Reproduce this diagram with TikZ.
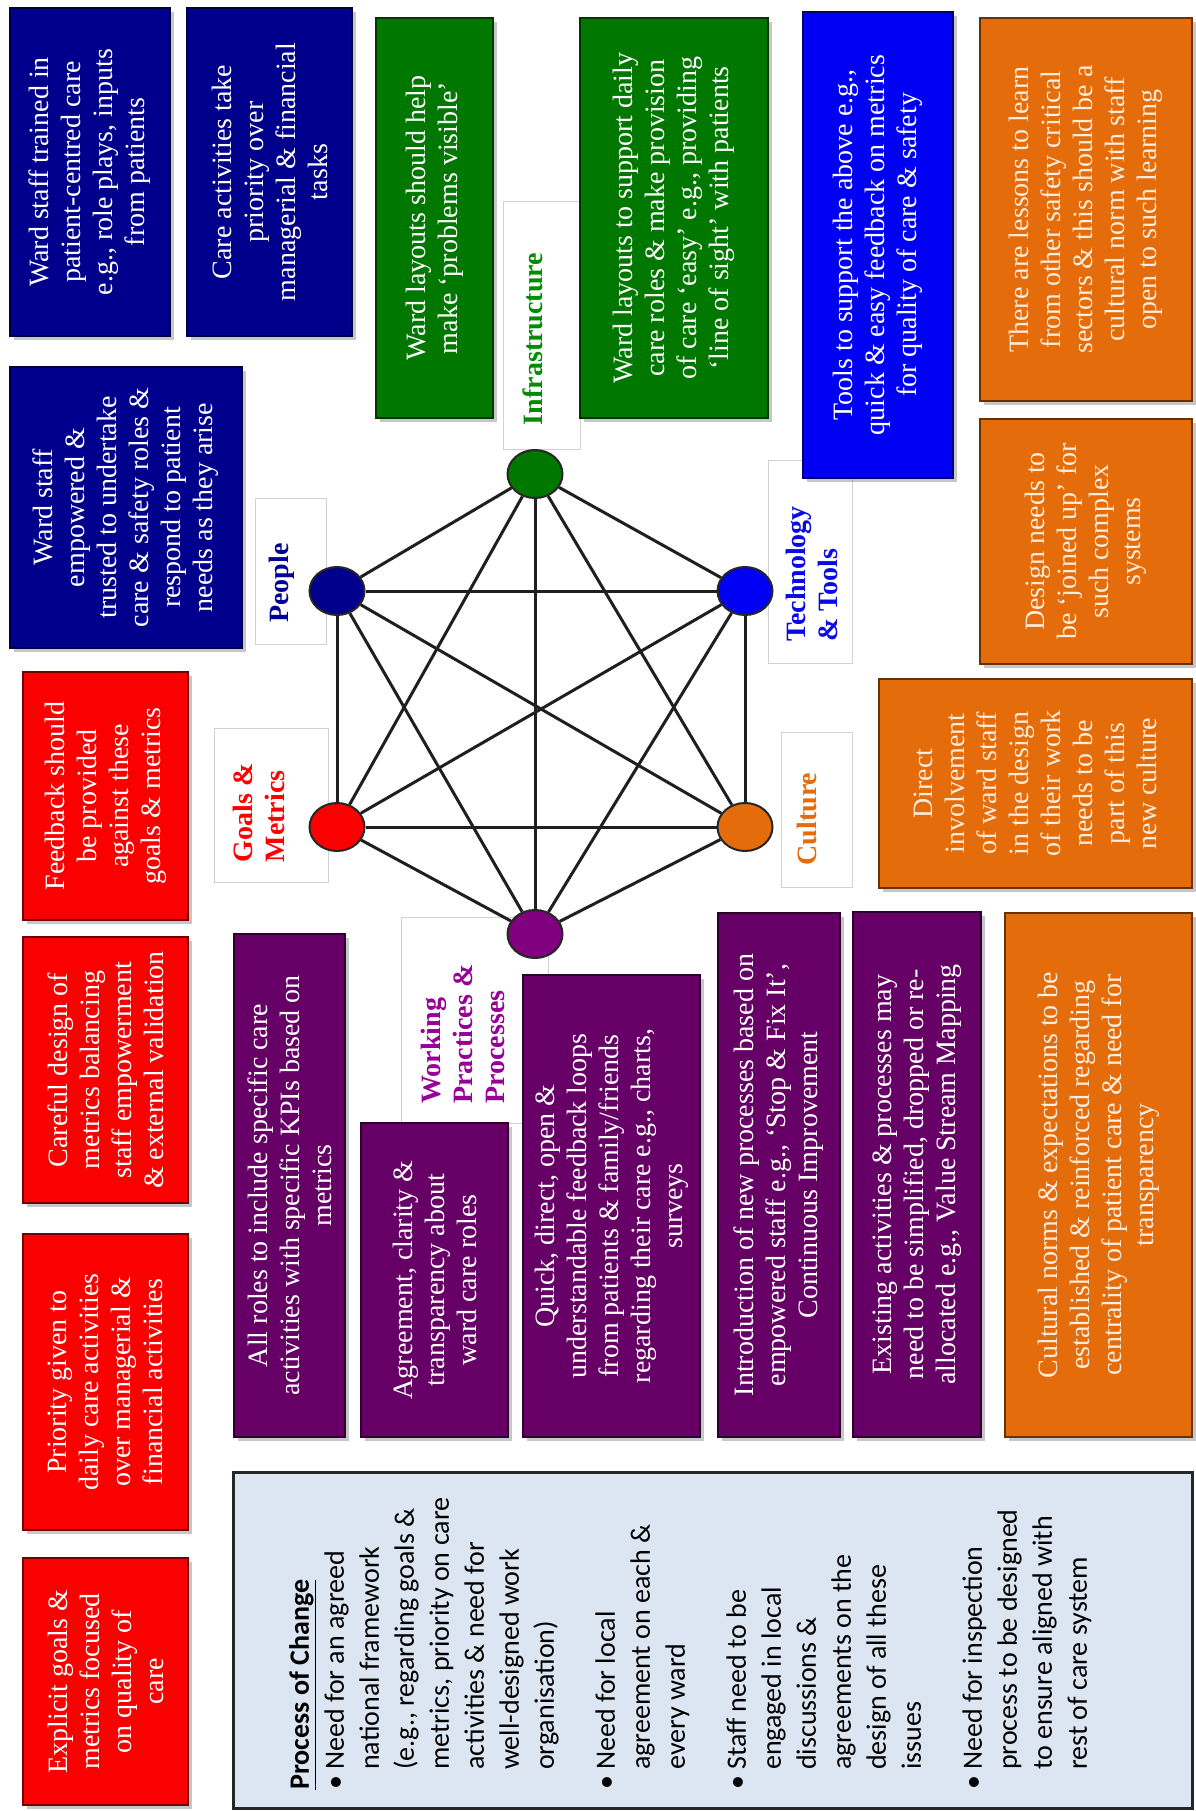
\documentclass[tikz,border=0pt]{standalone}
\usepackage{fontspec}
\usetikzlibrary{shapes.geometric}
\newfontfamily\serifbox{Liberation Serif}
\newfontfamily\calib{Carlito}
\definecolor{navyc}{RGB}{0,0,140}
\definecolor{greenc}{RGB}{0,120,0}
\definecolor{bluec}{RGB}{0,0,245}
\definecolor{orangec}{RGB}{228,108,10}
\definecolor{redc}{RGB}{250,0,0}
\definecolor{purplec}{RGB}{102,0,102}
\definecolor{procc}{RGB}{220,230,242}
\definecolor{wpcirc}{RGB}{128,0,128}
\definecolor{lPeople}{RGB}{0,0,150}
\definecolor{lInfra}{RGB}{0,140,0}
\definecolor{lTech}{RGB}{10,10,230}
\definecolor{lGoals}{RGB}{255,0,0}
\definecolor{lCult}{RGB}{228,108,10}
\definecolor{lWP}{RGB}{150,0,150}
\definecolor{peach}{RGB}{255,236,218}
\newcommand\boxfont{\serifbox\fontsize{28pt}{32pt}\selectfont}
\newcommand\lblfont{\serifbox\bfseries\fontsize{28pt}{32pt}\selectfont}
\newcommand\procfont{\calib\fontsize{28pt}{35pt}\selectfont}
% name, x1, y1, x2, y2, style, text
\newcommand\mkbox[7]{%
  \fill[boxshadow] ({#2+4},{#3+4}) rectangle ({#4+4},{#5+4});
  \pgfmathsetmacro\mycx{(#2+#4)/2}%
  \pgfmathsetmacro\mycy{(#3+#5)/2}%
  \pgfmathsetmacro\mybw{#5-#3}%
  \pgfmathsetmacro\mybh{#4-#2}%
  \node[#6, minimum width=\mybw pt, minimum height=\mybh pt] (#1) at (\mycx,\mycy) {#7};}
\newcommand\ind{\hspace*{20pt}}
\newcommand\bul{\makebox[20pt][l]{•}}
\begin{document}
\begin{tikzpicture}[x=1pt,y=-1pt,
  boxshadow/.style={black,opacity=0.22},
  cbox/.style={rotate=90, draw=#1!45!black, line width=1.5pt, fill=#1,
    text=white, font=\boxfont, align=center, inner sep=0pt},
  obox/.style={cbox=orangec, text=peach},
  lblbox/.style={draw=black!18, line width=1pt, fill=white},
  lbltext/.style={rotate=90, font=\lblfont, align=left, inner sep=0pt},
  circ/.style={ellipse, draw=black!85, line width=2pt, minimum width=55pt,
    minimum height=48pt, inner sep=0pt},
  edge/.style={line width=3pt, black!88},
  procbox/.style={draw=black!85, line width=3pt, fill=procc},
  proctext/.style={rotate=90, font=\procfont, align=left, inner sep=0pt, anchor=north west}
]
\useasboundingbox (0,0) rectangle (1195,1811);
\fill[white] (0,0) rectangle (1195,1811);

% ---- label boxes (behind)
\draw[lblbox] (503,202) rectangle (580,449);
\draw[lblbox] (255,498) rectangle (326,644);
\draw[lblbox] (768,460) rectangle (852,663);
\draw[lblbox] (214,728) rectangle (328,882);
\draw[lblbox] (781,732) rectangle (852,887);
\draw[lblbox] (401,917) rectangle (548,1123);
\node[lbltext, text=lInfra] (tInf) at (533,339) {Infrastructure};
\node[lbltext, text=lPeople] (tPeo) at (282,583) {People};
\node[lbltext, text=lTech] (tTec) at (812,574) {Technology\\\& Tools};
\node[lbltext, text=lGoals] (tGoa) at (259,813) {Goals \&\\Metrics};
\node[lbltext, text=lCult] (tCul) at (807,819) {Culture};
\node[lbltext, text=lWP] (tWP) at (463,1034) {Working\\Practices \&\\Processes};

% ---- People (navy)
\mkbox{b1}{10}{8}{170}{336}{cbox=navyc}{Ward staff trained in\\patient-centred care\\e.g., role plays, inputs\\from patients}
\mkbox{b2}{187}{8}{352}{336}{cbox=navyc}{Care activities take\\priority over\\managerial \& financial\\tasks}
\mkbox{b3}{10}{367}{242}{648}{cbox=navyc}{Ward staff\\empowered \&\\trusted to undertake\\care \& safety roles \&\\respond to patient\\needs as they arise}

% ---- Infrastructure (green)
\mkbox{g1}{376}{18}{493}{418}{cbox=greenc}{Ward layouts should help\\make ‘problems visible’}
\mkbox{g2}{580}{18}{768}{418}{cbox=greenc}{Ward layouts to support daily\\care roles \& make provision\\of care ‘easy’ e.g., providing\\‘line of sight’ with patients}

% ---- Technology (blue)
\mkbox{t1}{803}{12}{953}{478}{cbox=bluec}{Tools to support the above e.g.,\\quick \& easy feedback on metrics\\for quality of care \& safety}

% ---- Culture (orange)
\mkbox{o1}{980}{18}{1192}{401}{obox}{There are lessons to learn\\from other safety critical\\sectors \& this should be a\\cultural norm with staff\\open to such learning}
\mkbox{o2}{980}{419}{1192}{664}{obox}{Design needs to\\be ‘joined up’ for\\such complex\\systems}
\mkbox{o3}{879}{679}{1192}{888}{obox}{Direct\\involvement\\of ward staff\\in the design\\of their work\\needs to be\\part of this\\new culture}
\mkbox{o4}{1005}{913}{1192}{1437}{obox}{Cultural norms \& expectations to be\\established \& reinforced regarding\\centrality of patient care \& need for\\transparency}

% ---- Goals & Metrics (red)
\mkbox{r1}{23}{672}{188}{920}{cbox=redc}{Feedback should\\be provided\\against these\\goals \& metrics}
\mkbox{r2}{23}{937}{188}{1203}{cbox=redc}{Careful design of\\metrics balancing\\staff empowerment\\\& external validation}
\mkbox{r3}{23}{1234}{188}{1530}{cbox=redc}{Priority given to\\daily care activities\\over managerial \&\\financial activities}
\mkbox{r4}{23}{1558}{188}{1805}{cbox=redc}{Explicit goals \&\\metrics focused\\on quality of\\care}

% ---- Working practices (purple)
\mkbox{p1}{234}{934}{345}{1437}{cbox=purplec}{All roles to include specific care\\activities with specific KPIs based on\\metrics}
\mkbox{p2}{361}{1123}{508}{1437}{cbox=purplec}{Agreement, clarity \&\\transparency about\\ward care roles}
\mkbox{p3}{523}{975}{700}{1437}{cbox=purplec}{Quick, direct, open \&\\understandable feedback loops\\from patients \& family/friends\\regarding their care e.g., charts,\\surveys}
\mkbox{p4}{718}{913}{840}{1437}{cbox=purplec}{Introduction of new processes based on\\empowered staff e.g., ‘Stop \& Fix It’,\\Continuous Improvement}
\mkbox{p5}{853}{912}{981}{1437}{cbox=purplec}{Existing activities \& processes may\\need to be simplified, dropped or re-\\allocated e.g., Value Stream Mapping}

% ---- Process of change
\node[procbox, minimum width=959pt, minimum height=336pt] (proc) at (712.5,1640) {};
\node[proctext] (proctxt) at (289,1790) {\textbf{\underline{Process of Change}}\\
\bul Need for an agreed\\
\ind national framework\\
\ind (e.g., regarding goals \&\\
\ind metrics, priority on care\\
\ind activities \& need for\\
\ind well-designed work\\
\ind organisation)\\[26pt]
\bul Need for local\\
\ind agreement on each \&\\
\ind every ward\\[26pt]
\bul Staff need to be\\
\ind engaged in local\\
\ind discussions \&\\
\ind agreements on the\\
\ind design of all these\\
\ind issues\\[26pt]
\bul Need for inspection\\
\ind process to be designed\\
\ind to ensure aligned with\\
\ind rest of care system};

% ---- hexagon of factors
\node[circ, fill=greenc] (nInf) at (535,474) {};
\node[circ, fill=navyc] (nPeo) at (337,591) {};
\node[circ, fill=bluec] (nTec) at (745,591) {};
\node[circ, fill=redc] (nGoa) at (337,827) {};
\node[circ, fill=orangec] (nCul) at (745,827) {};
\node[circ, fill=wpcirc] (nWP) at (535,934) {};
\foreach \a/\b in {nInf/nPeo, nInf/nTec, nInf/nGoa, nInf/nCul, nInf/nWP,
  nPeo/nTec, nPeo/nGoa, nPeo/nCul, nPeo/nWP, nTec/nGoa, nTec/nCul, nTec/nWP,
  nGoa/nCul, nGoa/nWP, nCul/nWP}
  \draw[edge] (\a) -- (\b);
\end{tikzpicture}
\end{document}
